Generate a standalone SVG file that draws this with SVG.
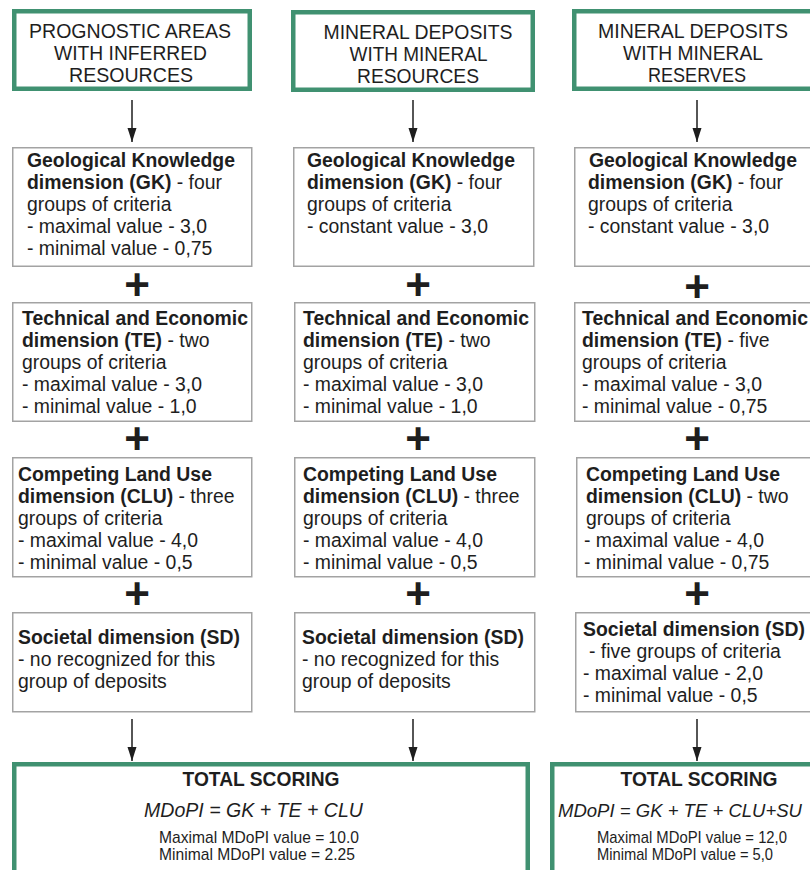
<svg xmlns="http://www.w3.org/2000/svg" width="810" height="870" viewBox="0 0 810 870">
<defs>
<style>
.bg{fill:#ffffff}
.green{fill:#ffffff;stroke:#409171;stroke-width:4.5}
.box{fill:#ffffff;stroke:#a3a3a3;stroke-width:1.5}
.cap{font-family:"Liberation Sans",Arial,sans-serif;font-size:19.5px;fill:#1e1e1e;text-anchor:middle}
.t{font-family:"Liberation Sans",Arial,sans-serif;font-size:19.4px;fill:#1e1e1e}
.b{font-weight:bold}
.plus{font-family:"Liberation Sans",Arial,sans-serif;font-size:44px;font-weight:bold;fill:#1e1e1e;text-anchor:middle}
.ts{font-family:"Liberation Sans",Arial,sans-serif;font-size:20px;font-weight:bold;fill:#1e1e1e;text-anchor:middle}
.f{font-family:"Liberation Sans",Arial,sans-serif;font-size:20px;font-style:italic;fill:#1e1e1e;text-anchor:middle}
.m{font-family:"Liberation Sans",Arial,sans-serif;font-size:16.2px;fill:#1e1e1e}
.conn{stroke:#1e1e1e;stroke-width:1.5;fill:none}
</style>
<marker id="ah" markerUnits="userSpaceOnUse" markerWidth="14" markerHeight="10" refX="14" refY="4.5" orient="auto">
<path d="M0,0 L14,4.5 L0,9 z" fill="#1e1e1e"/>
</marker>
</defs>
<rect class="bg" x="0" y="0" width="810" height="870"/>

<g id="top1">
<rect class="green" x="14.25" y="11.25" width="235.5" height="77.5"/>
<text class="cap" x="130" y="38" textLength="202" lengthAdjust="spacingAndGlyphs">PROGNOSTIC AREAS</text>
<text class="cap" x="130.5" y="60" textLength="153" lengthAdjust="spacingAndGlyphs">WITH INFERRED</text>
<text class="cap" x="131" y="82" textLength="124" lengthAdjust="spacingAndGlyphs">RESOURCES</text>
</g>
<g id="top2">
<rect class="green" x="293.25" y="12.25" width="239.5" height="77.5"/>
<text class="cap" x="418" y="39" textLength="189" lengthAdjust="spacingAndGlyphs">MINERAL DEPOSITS</text>
<text class="cap" x="418.5" y="61" textLength="138" lengthAdjust="spacingAndGlyphs">WITH MINERAL</text>
<text class="cap" x="418" y="83" textLength="122" lengthAdjust="spacingAndGlyphs">RESOURCES</text>
</g>
<g id="top3">
<rect class="green" x="574.25" y="11.25" width="260" height="77.5"/>
<text class="cap" x="693" y="38" textLength="190" lengthAdjust="spacingAndGlyphs">MINERAL DEPOSITS</text>
<text class="cap" x="693" y="60" textLength="140" lengthAdjust="spacingAndGlyphs">WITH MINERAL</text>
<text class="cap" x="697" y="82" textLength="98" lengthAdjust="spacingAndGlyphs">RESERVES</text>
</g>

<g id="gk1">
<rect class="box" x="12.75" y="147.75" width="239" height="118.5"/>
<text class="t" x="27" y="167"><tspan class="b">Geological Knowledge</tspan></text>
<text class="t" x="27" y="189"><tspan class="b">dimension (GK)</tspan> - four</text>
<text class="t" x="27" y="211">groups of criteria</text>
<text class="t" x="27" y="233">- maximal value - 3,0</text>
<text class="t" x="27" y="255">- minimal value - 0,75</text>
</g>
<g id="te1">
<rect class="box" x="12.75" y="302.75" width="239" height="118.5"/>
<text class="t" x="22" y="325"><tspan class="b">Technical and Economic</tspan></text>
<text class="t" x="22" y="347"><tspan class="b">dimension (TE)</tspan> - two</text>
<text class="t" x="22" y="369">groups of criteria</text>
<text class="t" x="22" y="391">- maximal value - 3,0</text>
<text class="t" x="22" y="413">- minimal value - 1,0</text>
</g>
<g id="clu1">
<rect class="box" x="12.75" y="457.75" width="239" height="119"/>
<text class="t" x="18" y="481"><tspan class="b">Competing Land Use</tspan></text>
<text class="t" x="18" y="503"><tspan class="b">dimension (CLU)</tspan> - three</text>
<text class="t" x="18" y="525">groups of criteria</text>
<text class="t" x="18" y="547">- maximal value - 4,0</text>
<text class="t" x="18" y="569">- minimal value - 0,5</text>
</g>
<g id="sd1">
<rect class="box" x="12.75" y="612.75" width="239" height="99"/>
<text class="t" x="18" y="644"><tspan class="b">Societal dimension (SD)</tspan></text>
<text class="t" x="18" y="666">- no recognized for this</text>
<text class="t" x="18" y="688">group of deposits</text>
</g>

<g id="gk2">
<rect class="box" x="293.75" y="147.75" width="240" height="118.5"/>
<text class="t" x="307" y="167"><tspan class="b">Geological Knowledge</tspan></text>
<text class="t" x="307" y="189"><tspan class="b">dimension (GK)</tspan> - four</text>
<text class="t" x="307" y="211">groups of criteria</text>
<text class="t" x="307" y="233">- constant value - 3,0</text>
</g>
<g id="te2">
<rect class="box" x="294.75" y="302.75" width="240" height="118.5"/>
<text class="t" x="303" y="325"><tspan class="b">Technical and Economic</tspan></text>
<text class="t" x="303" y="347"><tspan class="b">dimension (TE)</tspan> - two</text>
<text class="t" x="303" y="369">groups of criteria</text>
<text class="t" x="303" y="391">- maximal value - 3,0</text>
<text class="t" x="303" y="413">- minimal value - 1,0</text>
</g>
<g id="clu2">
<rect class="box" x="294.75" y="457.75" width="240" height="119"/>
<text class="t" x="303" y="481"><tspan class="b">Competing Land Use</tspan></text>
<text class="t" x="303" y="503"><tspan class="b">dimension (CLU)</tspan> - three</text>
<text class="t" x="303" y="525">groups of criteria</text>
<text class="t" x="303" y="547">- maximal value - 4,0</text>
<text class="t" x="303" y="569">- minimal value - 0,5</text>
</g>
<g id="sd2">
<rect class="box" x="294.75" y="612.75" width="240" height="99"/>
<text class="t" x="302" y="644"><tspan class="b">Societal dimension (SD)</tspan></text>
<text class="t" x="302" y="666">- no recognized for this</text>
<text class="t" x="302" y="688">group of deposits</text>
</g>

<g id="gk3">
<rect class="box" x="574.75" y="147.75" width="260" height="118.5"/>
<text class="t" x="589" y="167"><tspan class="b">Geological Knowledge</tspan></text>
<text class="t" x="588" y="189"><tspan class="b">dimension (GK)</tspan> - four</text>
<text class="t" x="588" y="211">groups of criteria</text>
<text class="t" x="588" y="233">- constant value - 3,0</text>
</g>
<g id="te3">
<rect class="box" x="574.75" y="302.75" width="260" height="118.5"/>
<text class="t" x="582" y="325"><tspan class="b">Technical and Economic</tspan></text>
<text class="t" x="582" y="347"><tspan class="b">dimension (TE)</tspan> - five</text>
<text class="t" x="582" y="369">groups of criteria</text>
<text class="t" x="582" y="391">- maximal value - 3,0</text>
<text class="t" x="582" y="413">- minimal value - 0,75</text>
</g>
<g id="clu3">
<rect class="box" x="576.75" y="457.75" width="260" height="119"/>
<text class="t" x="586" y="481"><tspan class="b">Competing Land Use</tspan></text>
<text class="t" x="586" y="503"><tspan class="b">dimension (CLU)</tspan> - two</text>
<text class="t" x="586" y="525">groups of criteria</text>
<text class="t" x="584" y="547">- maximal value - 4,0</text>
<text class="t" x="584" y="569">- minimal value - 0,75</text>
</g>
<g id="sd3">
<rect class="box" x="575.75" y="612.75" width="260" height="99"/>
<text class="t" x="583" y="636"><tspan class="b">Societal dimension (SD)</tspan></text>
<text class="t" x="589" y="658">- five groups of criteria</text>
<text class="t" x="583" y="680">- maximal value - 2,0</text>
<text class="t" x="583" y="702">- minimal value - 0,5</text>
</g>

<g id="plus-signs">
<text class="plus" x="137" y="300">+</text>
<text class="plus" x="137" y="454">+</text>
<text class="plus" x="137" y="609">+</text>
<text class="plus" x="418" y="300">+</text>
<text class="plus" x="418" y="454">+</text>
<text class="plus" x="418" y="609">+</text>
<text class="plus" x="697" y="302">+</text>
<text class="plus" x="697" y="454">+</text>
<text class="plus" x="697" y="609">+</text>
</g>

<g id="total1">
<rect class="green" x="14.25" y="764.25" width="513.5" height="130"/>
<text class="ts" x="261" y="786" textLength="157" lengthAdjust="spacingAndGlyphs">TOTAL SCORING</text>
<text class="f" x="253.5" y="817" textLength="219" lengthAdjust="spacingAndGlyphs">MDoPI = GK + TE + CLU</text>
<text class="m" x="159" y="843" textLength="200" lengthAdjust="spacingAndGlyphs">Maximal MDoPI value = 10.0</text>
<text class="m" x="159" y="860" textLength="196" lengthAdjust="spacingAndGlyphs">Minimal MDoPI value = 2.25</text>
</g>
<g id="total2">
<rect class="green" x="552.25" y="764.25" width="300" height="130"/>
<text class="ts" x="699" y="786" textLength="157" lengthAdjust="spacingAndGlyphs">TOTAL SCORING</text>
<text class="f" style="font-size:18.6px" x="680" y="817" textLength="244" lengthAdjust="spacingAndGlyphs">MDoPI = GK + TE + CLU+SU</text>
<text class="m" x="597" y="843" textLength="190" lengthAdjust="spacingAndGlyphs">Maximal MDoPI value = 12,0</text>
<text class="m" x="597" y="860" textLength="176" lengthAdjust="spacingAndGlyphs">Minimal MDoPI value = 5,0</text>
</g>

<g id="connectors">
<line class="conn" x1="132" y1="100" x2="132" y2="142" marker-end="url(#ah)"/>
<line class="conn" x1="413" y1="100" x2="413" y2="142" marker-end="url(#ah)"/>
<line class="conn" x1="697" y1="100" x2="697" y2="142" marker-end="url(#ah)"/>
<line class="conn" x1="132" y1="719" x2="132" y2="761" marker-end="url(#ah)"/>
<line class="conn" x1="413" y1="719" x2="413" y2="761" marker-end="url(#ah)"/>
<line class="conn" x1="697" y1="719" x2="697" y2="761" marker-end="url(#ah)"/>
</g>
</svg>
